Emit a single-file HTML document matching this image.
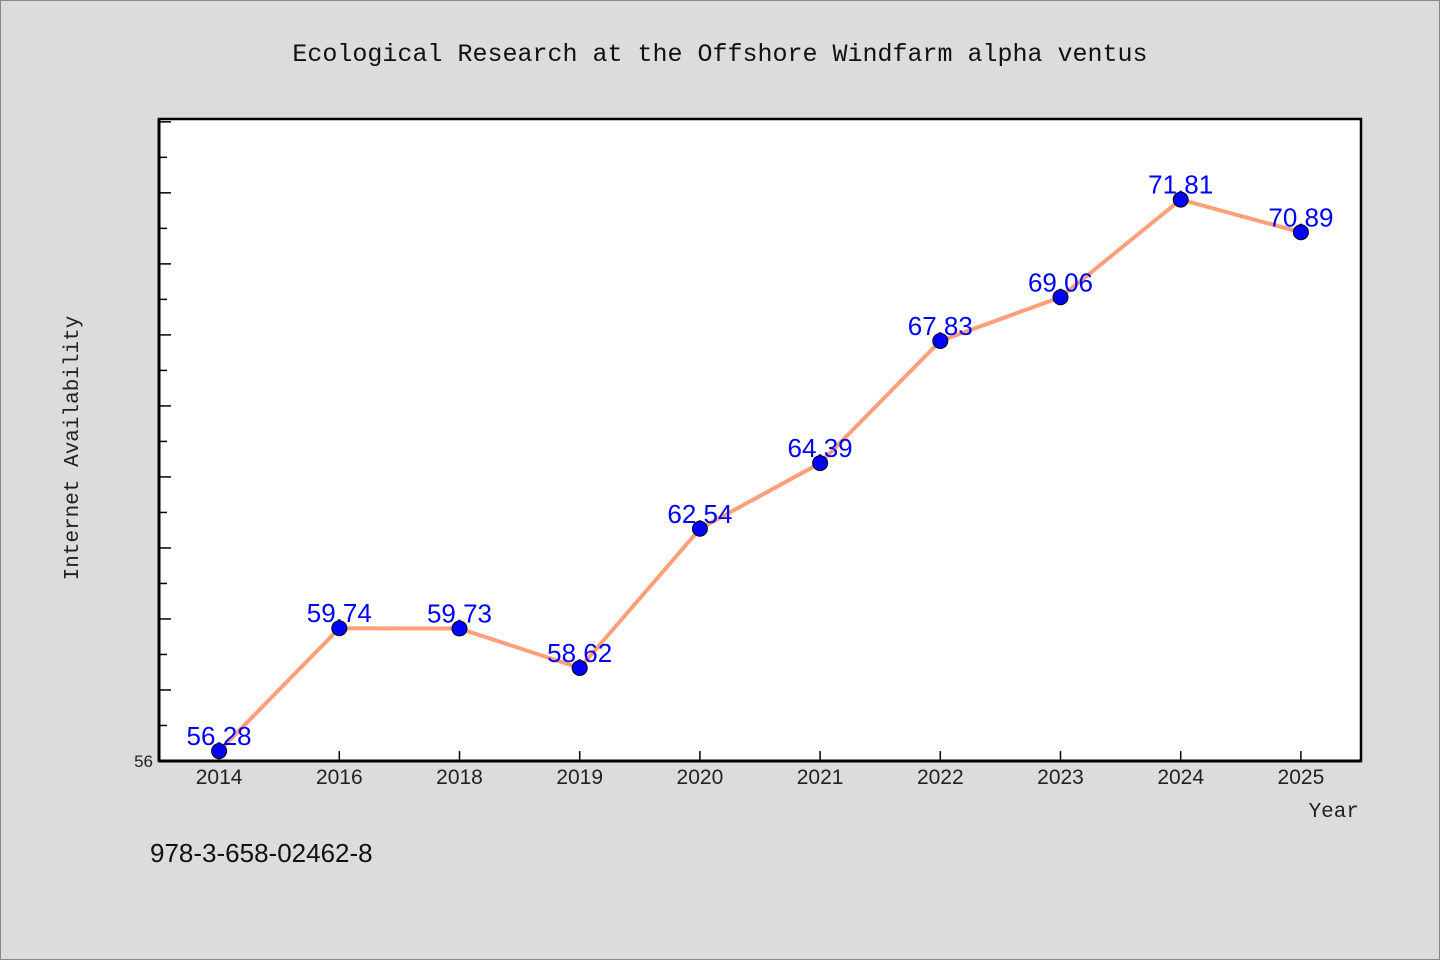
<!DOCTYPE html>
<html><head><meta charset="utf-8"><style>
body{margin:0;background:#dcdcdc;}
svg{display:block;font-family:"WenQuanYi Zen Hei","Liberation Sans",sans-serif;}
</style></head><body>
<svg width="1440" height="960">
<rect x="0.5" y="0.5" width="1439" height="959" fill="#dcdcdc" stroke="#888"/>
<text x="720" y="61" text-anchor="middle" font-size="25" fill="#111" font-family="Liberation Mono, monospace">Ecological Research at the Offshore Windfarm alpha ventus</text>
<rect x="159" y="119" width="1202" height="642" fill="#fff" stroke="#000" stroke-width="2.5"/>
<g id="yticks"></g><g id="xticks"></g>
<line x1="159" y1="761" x2="1361" y2="761" stroke="#000" stroke-width="3"/>
<line x1="159" y1="119" x2="159" y2="761" stroke="#000" stroke-width="3"/>
<text x="78" y="448" transform="rotate(-90 78 448)" text-anchor="middle" font-size="21" fill="#222" font-family="Liberation Mono, monospace">Internet Availability</text>
<text x="1359" y="817" text-anchor="end" font-size="21" fill="#222" font-family="Liberation Mono, monospace">Year</text>
<text x="150" y="862" font-size="26" fill="#111">978-3-658-02462-8</text>
<g id="series"></g>
</svg>
<script>
const categories=["2014","2016","2018","2019","2020","2021","2022","2023","2024","2025"];
const values=[56.28,59.74,59.73,58.62,62.54,64.39,67.83,69.06,71.81,70.89];
const yTickLabels=["56"];
const yMin=56,yMax=74.08;
const L=159,R=1361,T=119,B=761;
const NS="http://www.w3.org/2000/svg";
function x(i){const w=(R-L)/categories.length;return L+w*(i+0.5);}
function y(v){return B-(v-yMin)/(yMax-yMin)*(B-T);}
function mk(tag,attrs,parent){const e=document.createElementNS(NS,tag);for(const k in attrs)e.setAttribute(k,attrs[k]);parent.appendChild(e);return e;}
const yt=document.getElementById('yticks');
for(let v=yMin+1;v<yMax;v++){const len=(v%2===0)?12:8;
 const l=mk('line',{x1:L,x2:L+len,y1:y(v),y2:y(v),stroke:'#000','stroke-width':1.5},yt);
 
 }
yTickLabels.forEach(s=>{const t=mk('text',{x:L-6,y:y(+s)+6,'text-anchor':'end','font-size':17,fill:'#222'},yt);t.textContent=s;
 
 });
const xt=document.getElementById('xticks');
categories.forEach((c,i)=>{const l=mk('line',{x1:x(i),x2:x(i),y1:B,y2:B-10,stroke:'#000','stroke-width':1.5},xt);
 
 
 const t=mk('text',{x:x(i),y:B+23,'text-anchor':'middle','font-size':21,fill:'#222'},xt);t.textContent=c;
 
 });
const sg=document.getElementById('series');
const p=mk('polyline',{points:values.map((v,i)=>x(i)+','+y(v)).join(' '),fill:'none',stroke:'#ffa07a','stroke-width':4},sg);


values.forEach((v,i)=>{const t=mk('text',{x:x(i),y:y(v)-6,'text-anchor':'middle','font-size':26,fill:'#0000ff'},sg);t.textContent=v.toFixed(2);
 
 });
values.forEach((v,i)=>{const c=mk('circle',{cx:x(i),cy:y(v),r:7.5,fill:'#0000ff',stroke:'#000','stroke-width':1},sg);
 
 });
</script>
</body></html>
